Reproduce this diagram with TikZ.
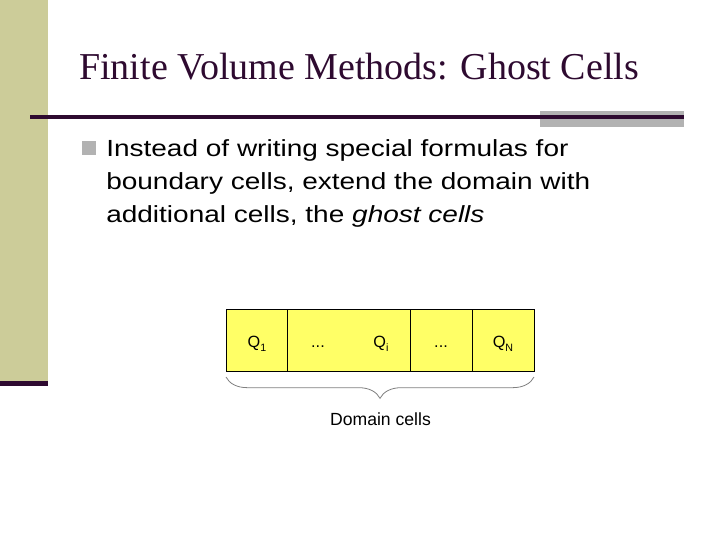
\documentclass[tikz,border=0pt]{standalone}
\usepackage{fontspec}
\setmainfont{Liberation Serif}
\newfontfamily\bodyfont[FakeStretch=1.2]{Liberation Sans}
\newfontfamily\figfont{Liberation Sans}
\usetikzlibrary{decorations.pathreplacing}
\definecolor{barcol}{HTML}{CCCC99}
\definecolor{plum}{HTML}{2E0A30}
\definecolor{graybox}{HTML}{B2B2B2}
\definecolor{cellyellow}{HTML}{FFFF66}
\tikzset{
  cell/.style={draw=black, line width=0.75pt, fill=cellyellow, anchor=north west,
    minimum height=46.5pt, inner sep=0pt, outer sep=0pt},
  qlabel/.style={font=\figfont\fontsize{12.2pt}{14pt}\selectfont, inner sep=0pt, anchor=base},
  bodytext/.style={font=\bodyfont\fontsize{17.5pt}{21pt}\selectfont, inner sep=0pt, anchor=base west},
}
\begin{document}
\begin{tikzpicture}[x=0.75pt, y=-0.75pt]
\useasboundingbox[fill=white] (0,0) rectangle (720,540);
% left bar
\fill[barcol] (0,0) rectangle (48,381);
\fill[plum] (0,381) rectangle (48,386);
% title
\node[anchor=base west, inner sep=0pt, text=plum, font=\fontsize{28.5pt}{34pt}\selectfont] (title) at (79,79) {Finite Volume Methods: Ghost Cells};
% rule
\fill[graybox] (540,111) rectangle (684,126.7);
\draw[plum, line width=2.5pt] (30,117) -- (684,117);
% bullet
\node[fill=graybox, minimum size=10.5pt, inner sep=0pt] (bullet) at (88.5,148) {};
\node[bodytext] (line1) at (106,156.7) {Instead of writing special formulas for};
\node[bodytext] (line2) at (106,189.7) {boundary cells, extend the domain with};
\node[bodytext] (line3) at (106,222.7) {additional cells, the \textit{ghost cells}};
% cells
\node[cell, minimum width=45.75pt] (c1) at (226,309) {};
\node[cell, minimum width=92.25pt] (c2) at (c1.north east) {};
\node[cell, minimum width=46.5pt] (c3) at (c2.north east) {};
\node[cell, minimum width=46.5pt] (c4) at (c3.north east) {};
\node[qlabel] (q1) at (257,347.5) {Q\raisebox{-3pt}{\footnotesize 1}};
\node[qlabel] (d1) at (318,347.5) {...};
\node[qlabel] (qi) at (381,347.5) {Q\raisebox{-3pt}{\footnotesize i}};
\node[qlabel] (d2) at (441,347.5) {...};
\node[qlabel] (qn) at (503,347.5) {Q\raisebox{-3pt}{\footnotesize N}};
% brace
\draw[gray, line width=0.6pt, decorate, decoration={brace, amplitude=16pt}]
  ([yshift=-4.5pt]c4.south east) -- ([yshift=-4.5pt]c1.south west);
\node[anchor=base, inner sep=0pt, font=\figfont\fontsize{13.2pt}{16pt}\selectfont] (dom) at (380.5,425.7) {Domain cells};
\end{tikzpicture}
\end{document}
